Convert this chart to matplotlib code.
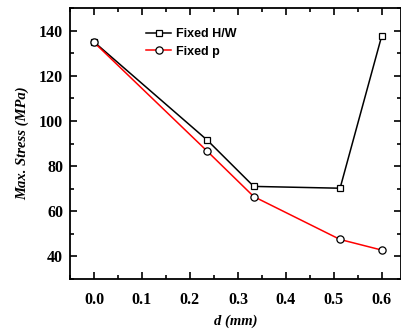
import matplotlib
matplotlib.use('Agg')
import matplotlib.pyplot as plt
from matplotlib.ticker import MultipleLocator

# 数据
d_hw = [0.0, 0.236, 0.333, 0.513, 0.6]
stress_hw = [135.0, 91.5, 71.0, 70.2, 137.8]
d_p = [0.0, 0.236, 0.333, 0.513, 0.6]
stress_p = [134.8, 86.6, 66.5, 47.5, 42.8]
labels = ['Fixed H/W', 'Fixed p']

fig = plt.figure(figsize=(4.01, 3.29), dpi=100)
ax = fig.add_axes([70 / 401, 1 - 279 / 329, 331 / 401, 271 / 329])

ax.plot(d_hw, stress_hw, color='black', lw=1.1, marker='s', ms=4.2,
        mfc='white', mec='black', mew=0.9, label=labels[0])
ax.plot(d_p, stress_p, color='red', lw=1.1, marker='o', ms=5.2,
        mfc='white', mec='black', mew=0.9, label=labels[1])

ax.set_xlim(-0.05, 0.64)
ax.set_ylim(30, 150)
ax.xaxis.set_major_locator(MultipleLocator(0.1))
ax.xaxis.set_minor_locator(MultipleLocator(0.05))
ax.yaxis.set_major_locator(MultipleLocator(20))
ax.yaxis.set_minor_locator(MultipleLocator(10))
ax.set_yticks([40, 60, 80, 100, 120, 140])

ax.tick_params(which='both', direction='in', top=True, right=True, width=1.2)
ax.tick_params(which='major', length=5)
ax.tick_params(which='minor', length=3)
for s in ax.spines.values():
    s.set_linewidth(1.3)

for lab in ax.get_xticklabels() + ax.get_yticklabels():
    lab.set_fontfamily('Liberation Serif')
    lab.set_fontweight('bold')
    lab.set_fontsize(11.5)
ax.tick_params(axis='x', pad=9)
ax.tick_params(axis='y', pad=5)

ax.set_xlabel('d (mm)', family='Liberation Serif', weight='bold', style='italic', size=10.5, labelpad=5)
ax.set_ylabel('Max. Stress (MPa)', family='Liberation Serif', weight='bold', style='italic', size=10.5, labelpad=7)

ax.legend(loc='upper left', bbox_to_anchor=(0.215, 0.945), frameon=False,
          prop={'family': 'Liberation Sans', 'weight': 'bold', 'size': 9},
          handlelength=2.0, handletextpad=0.4, labelspacing=0.45, borderaxespad=0)

fig.savefig('out.png', dpi=100)
